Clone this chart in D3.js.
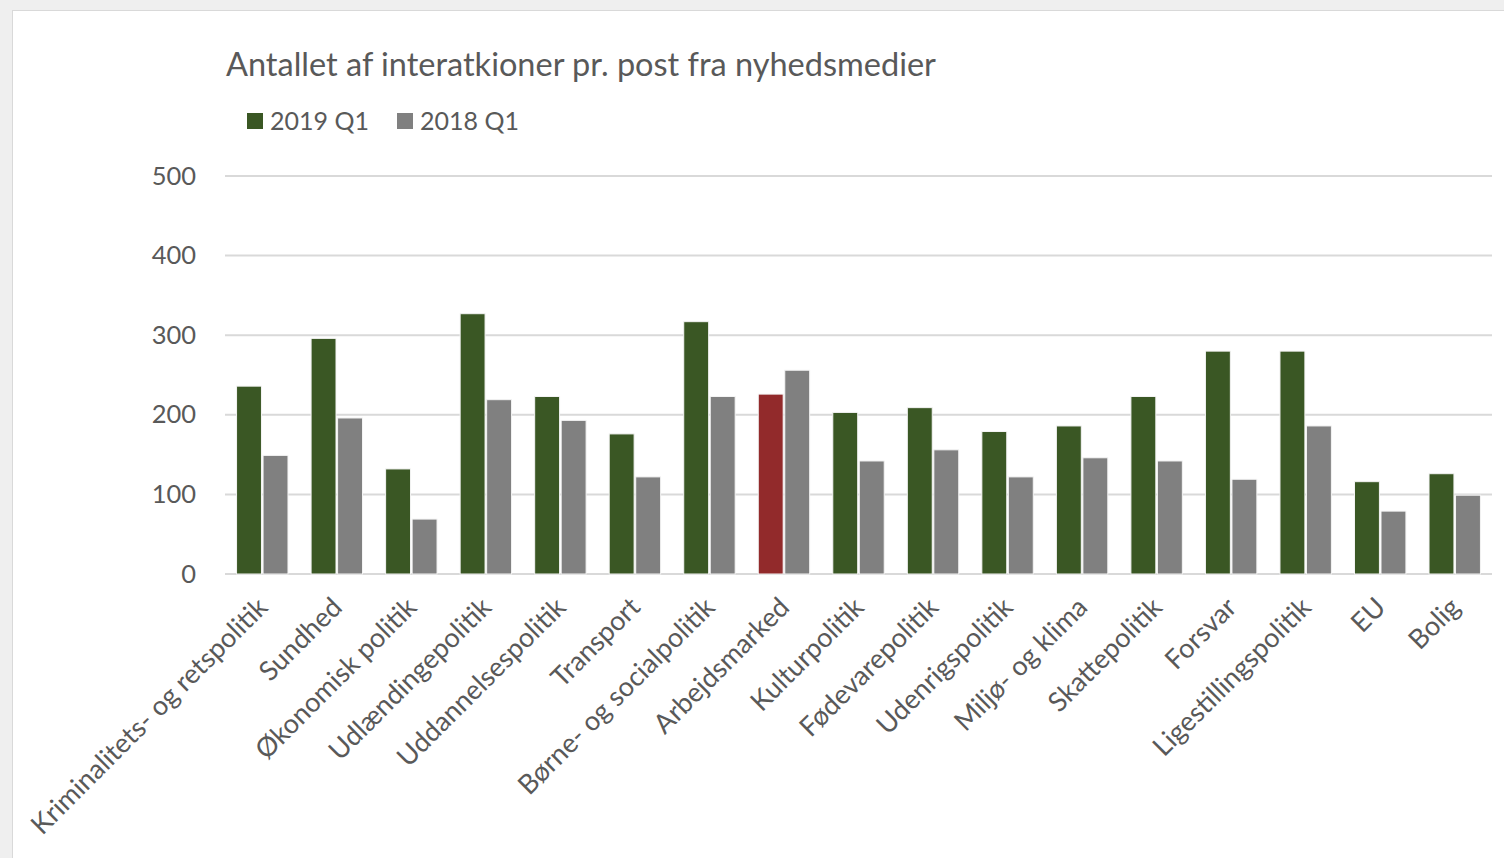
<!DOCTYPE html>
<html>
<head>
<meta charset="utf-8">
<script src="https://cdn.jsdelivr.net/npm/d3@7"></script>
<style>
  body { margin: 0; background: #efefef; }
  svg { display: block; font-family: Lato, "Open Sans", sans-serif; }
</style>
</head>
<body>
<svg></svg>
<script>
// data
var categories = ['Kriminalitets- og retspolitik', 'Sundhed', 'Økonomisk politik', 'Udlændingepolitik',
  'Uddannelsespolitik', 'Transport', 'Børne- og socialpolitik', 'Arbejdsmarked', 'Kulturpolitik',
  'Fødevarepolitik', 'Udenrigspolitik', 'Miljø- og klima', 'Skattepolitik', 'Forsvar',
  'Ligestillingspolitik', 'EU', 'Bolig'];
var series = ['2019 Q1', '2018 Q1'];
var values2019 = [236, 296, 132, 327, 223, 176, 317, 226, 203, 209, 179, 186, 223, 280, 280, 116, 126];
var values2018 = [149, 196, 69, 219, 193, 122, 223, 256, 142, 156, 122, 146, 142, 119, 186, 79, 99];
var yTicks = [0, 100, 200, 300, 400, 500];
var highlight = 'Arbejdsmarked';

var width = 1504, height = 858;
var colors = { '2019 Q1': '#3a5724', '2018 Q1': '#808080' };
var highlightColor = '#922a2b';
var textColor = '#595959';

var svg = d3.select('svg').attr('width', width).attr('height', height);

// chart frame
svg.append('rect')
   .attr('x', 12.5).attr('y', 10.5)
   .attr('width', width).attr('height', height)
   .attr('fill', '#fff')
   .attr('stroke', '#d9d9d9');

var x = d3.scaleBand().domain(categories).range([225, 1492]).paddingInner(0.31).paddingOuter(0.155);
var xs = d3.scaleBand().domain(series).range([0, x.bandwidth()]).paddingInner(0.06);
var y = d3.scaleLinear().domain([0, 500]).range([574, 176]);

// gridlines
svg.append('g').selectAll('line').data(yTicks).enter().append('line')
   .attr('x1', 225).attr('x2', 1492)
   .attr('y1', d => y(d)).attr('y2', d => y(d))
   .attr('stroke', '#d9d9d9').attr('stroke-width', 2);

// y labels
svg.append('g').selectAll('text').data(yTicks).enter().append('text')
   .attr('x', 196).attr('y', d => y(d) + 8.5)
   .attr('text-anchor', 'end')
   .attr('font-size', 25.5)
   .attr('fill', textColor)
   .text(d => d);

// bars
var rows = categories.map((c, i) => ({ cat: c, vals: [values2019[i], values2018[i]] }));
var groups = svg.append('g').selectAll('g').data(rows).enter().append('g')
   .attr('transform', d => `translate(${x(d.cat)},0)`);

groups.selectAll('rect').data(d => d.vals.map((v, j) => ({ cat: d.cat, s: series[j], v: v })))
   .enter().append('rect')
     .attr('x', d => xs(d.s))
     .attr('width', xs.bandwidth())
     .attr('y', d => y(d.v))
     .attr('height', d => y(0) - y(d.v))
     .attr('fill', d => (d.cat === highlight && d.s === '2019 Q1') ? highlightColor : colors[d.s])
     .attr('stroke', '#f4f4f4')
     .attr('stroke-width', 1);

// x labels
svg.append('g').selectAll('text').data(categories).enter().append('text')
   .attr('transform', d => `translate(${x(d) + x.bandwidth() / 2 + 7},${609}) rotate(-45)`)
   .attr('text-anchor', 'end')
   .attr('font-size', 27)
   .attr('fill', textColor)
   .text(d => d);

// title
svg.append('text')
   .attr('x', 226).attr('y', 76)
   .attr('font-size', 32.5)
   .attr('fill', textColor)
   .text('Antallet af interatkioner pr. post fra nyhedsmedier');

// legend
var legend = svg.append('g').selectAll('g').data(series).enter().append('g')
   .attr('transform', (d, i) => `translate(${247 + i * 150},113)`);
legend.append('rect').attr('width', 16).attr('height', 16).attr('fill', d => colors[d]);
legend.append('text').attr('x', 23).attr('y', 17)
   .attr('font-size', 25).attr('fill', textColor).text(d => d);
</script>
</body>
</html>
